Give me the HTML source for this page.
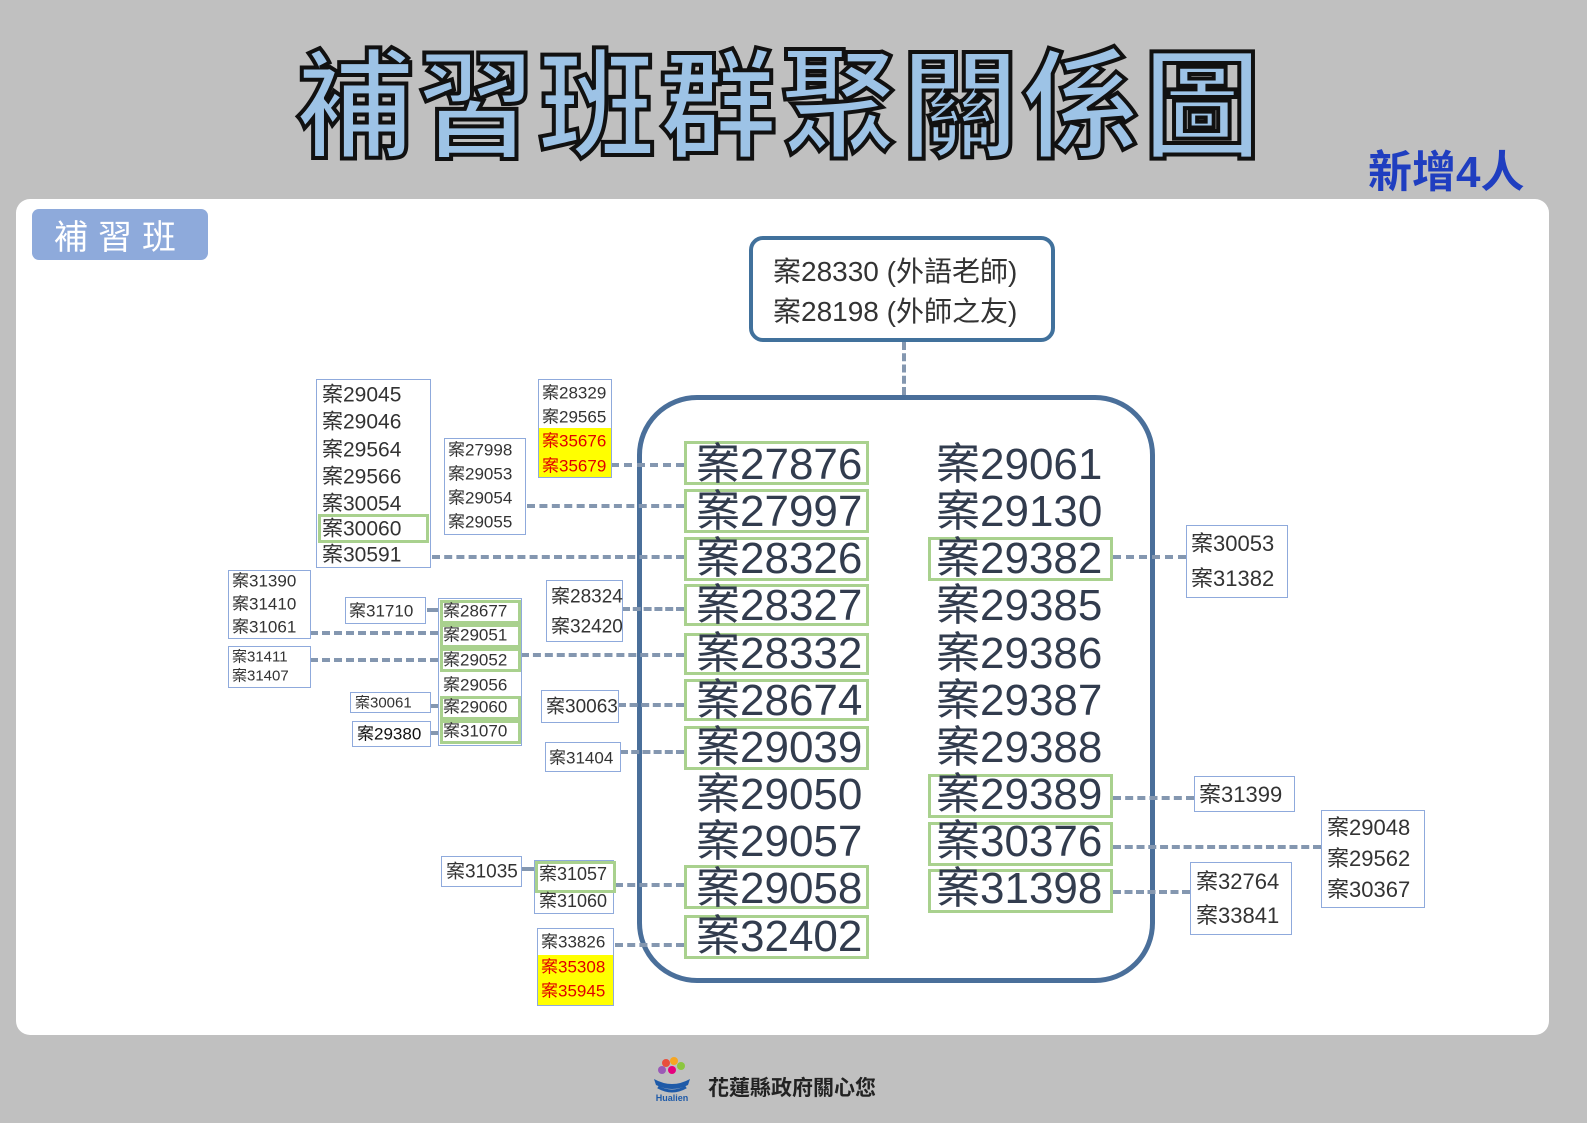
<!DOCTYPE html>
<html><head><meta charset="utf-8"><style>
*{margin:0;padding:0;box-sizing:border-box}
body{width:1587px;height:1123px;background:#c0c0c0;position:relative;overflow:hidden;font-family:"Liberation Sans","Noto Sans CJK TC",sans-serif;color:#333}
.a{position:absolute}
.box{position:absolute;background:#fff;border:1px solid #8faadc}
.r{position:absolute;left:0;right:0;white-space:nowrap;line-height:1;transform:translateY(-50%)}
.g{position:absolute;border:3px solid #a9d18e}
.big{position:absolute;font-size:44px;line-height:1;color:#323c4e;white-space:nowrap;transform:translateY(-50%)}
.d{position:absolute;height:0;border-top:4px dashed #8497b0}
.y{position:absolute;background:#ffff00}
.red{color:#e00000}
</style></head><body>
<div class="a" style="left:290px;top:32px;width:980px;text-align:center;font-size:118px;font-weight:bold;color:#9dc3e6;-webkit-text-stroke:4px #111;letter-spacing:3px;line-height:1.1;font-family:'Noto Sans CJK TC',sans-serif">補習班群聚關係圖</div>
<div class="a" style="left:1368px;top:136px;font-size:44px;font-weight:bold;color:#1f3ec0;font-family:'Liberation Sans','Noto Sans CJK TC',sans-serif">新增4人</div>
<div class="a" style="left:16px;top:199px;width:1533px;height:836px;background:#fff;border-radius:14px"></div>
<div class="a" style="left:32px;top:209px;width:176px;height:51px;background:#8eaadb;border-radius:7px;color:#fff;font-size:34px;letter-spacing:10px;text-align:center;line-height:51px;font-family:'Noto Sans CJK TC',sans-serif">補習班</div>
<div class="a" style="left:749px;top:236px;width:306px;height:106px;border:4px solid #41719c;border-radius:14px;background:#fff;font-size:28px;line-height:40px;padding:12px 0 0 20px;color:#333">案28330 (外語老師)<br>案28198 (外師之友)</div>
<div class="a" style="left:902px;top:342px;height:53px;border-left:4px dashed #8497b0"></div>
<div class="a" style="left:637px;top:395px;width:518px;height:588px;border:5px solid #4a6f9a;border-radius:60px"></div>

<!-- connectors -->
<div class="d" style="top:463px;left:611px;width:73px"></div>
<div class="d" style="top:504px;left:527px;width:157px"></div>
<div class="d" style="top:555px;left:432px;width:252px"></div>
<div class="d" style="top:608px;left:427px;width:11px"></div>
<div class="d" style="top:631px;left:310px;width:128px"></div>
<div class="d" style="top:607px;left:622px;width:62px"></div>
<div class="d" style="top:658px;left:310px;width:128px"></div>
<div class="d" style="top:653px;left:521px;width:163px"></div>
<div class="d" style="top:703px;left:618px;width:66px"></div>
<div class="d" style="top:704px;left:430px;width:8px"></div>
<div class="d" style="top:731px;left:430px;width:8px"></div>
<div class="d" style="top:750px;left:620px;width:64px"></div>
<div class="d" style="top:867px;left:521px;width:13px"></div>
<div class="d" style="top:883px;left:615px;width:69px"></div>
<div class="d" style="top:943px;left:615px;width:69px"></div>
<div class="d" style="top:555px;left:1113px;width:73px"></div>
<div class="d" style="top:796px;left:1113px;width:81px"></div>
<div class="d" style="top:845px;left:1113px;width:208px"></div>
<div class="d" style="top:890px;left:1113px;width:77px"></div>

<!-- central left column -->
<div class="g" style="left:684px;top:441px;width:185px;height:44px"></div>
<div class="g" style="left:684px;top:489px;width:185px;height:44px"></div>
<div class="g" style="left:684px;top:537px;width:185px;height:44px"></div>
<div class="g" style="left:684px;top:584px;width:185px;height:42px"></div>
<div class="g" style="left:684px;top:633px;width:185px;height:42px"></div>
<div class="g" style="left:684px;top:679px;width:185px;height:42px"></div>
<div class="g" style="left:684px;top:726px;width:185px;height:44px"></div>
<div class="g" style="left:684px;top:865px;width:185px;height:44px"></div>
<div class="g" style="left:684px;top:915px;width:185px;height:44px"></div>
<div class="big" style="left:696px;top:465px">案27876</div>
<div class="big" style="left:696px;top:512px">案27997</div>
<div class="big" style="left:696px;top:559px">案28326</div>
<div class="big" style="left:696px;top:606px">案28327</div>
<div class="big" style="left:696px;top:654px">案28332</div>
<div class="big" style="left:696px;top:701px">案28674</div>
<div class="big" style="left:696px;top:748px">案29039</div>
<div class="big" style="left:696px;top:795px">案29050</div>
<div class="big" style="left:696px;top:842px">案29057</div>
<div class="big" style="left:696px;top:889px">案29058</div>
<div class="big" style="left:696px;top:937px">案32402</div>
<!-- right column -->
<div class="g" style="left:928px;top:537px;width:185px;height:44px"></div>
<div class="g" style="left:928px;top:774px;width:185px;height:44px"></div>
<div class="g" style="left:928px;top:822px;width:185px;height:44px"></div>
<div class="g" style="left:928px;top:869px;width:185px;height:44px"></div>
<div class="big" style="left:936px;top:465px">案29061</div>
<div class="big" style="left:936px;top:512px">案29130</div>
<div class="big" style="left:936px;top:559px">案29382</div>
<div class="big" style="left:936px;top:606px">案29385</div>
<div class="big" style="left:936px;top:654px">案29386</div>
<div class="big" style="left:936px;top:701px">案29387</div>
<div class="big" style="left:936px;top:748px">案29388</div>
<div class="big" style="left:936px;top:795px">案29389</div>
<div class="big" style="left:936px;top:842px">案30376</div>
<div class="big" style="left:936px;top:889px">案31398</div>

<!-- A -->
<div class="box" style="left:316px;top:379px;width:115px;height:189px;font-size:21px;padding-left:5px">
<div class="g" style="left:1px;top:134px;width:111px;height:29px"></div>
<div class="r" style="left:5px;top:15px">案29045</div><div class="r" style="left:5px;top:42px">案29046</div><div class="r" style="left:5px;top:70px">案29564</div><div class="r" style="left:5px;top:97px">案29566</div><div class="r" style="left:5px;top:124px">案30054</div><div class="r" style="left:5px;top:149px">案30060</div><div class="r" style="left:5px;top:175px">案30591</div></div>
<!-- B -->
<div class="box" style="left:538px;top:379px;width:74px;height:99px;font-size:17px">
<div class="y" style="left:0;top:48px;width:72px;height:49px"></div>
<div class="r" style="left:3px;top:13px">案28329</div><div class="r" style="left:3px;top:37px">案29565</div><div class="r red" style="left:3px;top:61px">案35676</div><div class="r red" style="left:3px;top:86px">案35679</div></div>
<!-- C -->
<div class="box" style="left:444px;top:438px;width:82px;height:97px;font-size:17px">
<div class="r" style="left:3px;top:11px">案27998</div><div class="r" style="left:3px;top:35px">案29053</div><div class="r" style="left:3px;top:59px">案29054</div><div class="r" style="left:3px;top:83px">案29055</div></div>
<!-- D -->
<div class="box" style="left:228px;top:570px;width:83px;height:69px;font-size:17px">
<div class="r" style="left:3px;top:10px">案31390</div><div class="r" style="left:3px;top:33px">案31410</div><div class="r" style="left:3px;top:56px">案31061</div></div>
<!-- E -->
<div class="box" style="left:228px;top:646px;width:83px;height:42px;font-size:15px">
<div class="r" style="left:3px;top:10px">案31411</div><div class="r" style="left:3px;top:29px">案31407</div></div>
<div class="box" style="left:345px;top:597px;width:81px;height:27px;font-size:17px"><div class="r" style="left:3px;top:13px">案31710</div></div>
<!-- G -->
<div class="box" style="left:438px;top:598px;width:84px;height:148px;font-size:17px">
<div class="g" style="left:1px;top:1px;width:81px;height:24px"></div>
<div class="g" style="left:1px;top:25px;width:81px;height:24px"></div>
<div class="g" style="left:1px;top:49px;width:81px;height:24px"></div>
<div class="g" style="left:1px;top:97px;width:81px;height:24px"></div>
<div class="g" style="left:1px;top:121px;width:81px;height:24px"></div>
<div class="r" style="left:4px;top:12px">案28677</div><div class="r" style="left:4px;top:36px">案29051</div><div class="r" style="left:4px;top:61px">案29052</div><div class="r" style="left:4px;top:86px">案29056</div><div class="r" style="left:4px;top:108px">案29060</div><div class="r" style="left:4px;top:132px">案31070</div></div>
<div class="box" style="left:546px;top:580px;width:77px;height:62px;font-size:19px">
<div class="r" style="left:4px;top:16px">案28324</div><div class="r" style="left:4px;top:46px">案32420</div></div>
<div class="box" style="left:350px;top:692px;width:81px;height:21px;font-size:15px"><div class="r" style="left:4px;top:10px">案30061</div></div>
<div class="box" style="left:352px;top:721px;width:79px;height:26px;font-size:17px;color:#111"><div class="r" style="left:4px;top:12px">案29380</div></div>
<div class="box" style="left:541px;top:690px;width:78px;height:33px;font-size:19px"><div class="r" style="left:4px;top:16px">案30063</div></div>
<div class="box" style="left:545px;top:742px;width:76px;height:30px;font-size:17px"><div class="r" style="left:3px;top:15px">案31404</div></div>
<div class="box" style="left:441px;top:856px;width:81px;height:31px;font-size:19px"><div class="r" style="left:4px;top:15px">案31035</div></div>
<div class="box" style="left:534px;top:860px;width:80px;height:54px;font-size:18px">
<div class="g" style="left:0;top:0;width:81px;height:32px"></div>
<div class="r" style="left:4px;top:13px">案31057</div><div class="r" style="left:4px;top:40px">案31060</div></div>
<div class="box" style="left:537px;top:928px;width:77px;height:78px;font-size:17px">
<div class="y" style="left:0;top:26px;width:75px;height:50px"></div>
<div class="r" style="left:3px;top:13px">案33826</div><div class="r red" style="left:3px;top:38px">案35308</div><div class="r red" style="left:3px;top:62px">案35945</div></div>
<!-- right boxes -->
<div class="box" style="left:1186px;top:525px;width:102px;height:73px;font-size:22px">
<div class="r" style="left:4px;top:18px">案30053</div><div class="r" style="left:4px;top:53px">案31382</div></div>
<div class="box" style="left:1194px;top:776px;width:101px;height:36px;font-size:22px"><div class="r" style="left:4px;top:18px">案31399</div></div>
<div class="box" style="left:1321px;top:810px;width:104px;height:98px;font-size:22px">
<div class="r" style="left:5px;top:17px">案29048</div><div class="r" style="left:5px;top:48px">案29562</div><div class="r" style="left:5px;top:79px">案30367</div></div>
<div class="box" style="left:1190px;top:862px;width:102px;height:73px;font-size:22px">
<div class="r" style="left:5px;top:19px">案32764</div><div class="r" style="left:5px;top:53px">案33841</div></div>

<!-- footer -->
<svg class="a" style="left:650px;top:1055px" width="44" height="48" viewBox="0 0 44 48">
<circle cx="16" cy="8" r="4" fill="#e94e3c"/><circle cx="24" cy="6" r="4" fill="#f6a623"/><circle cx="31" cy="11" r="4" fill="#8cc63f"/><circle cx="12" cy="15" r="4" fill="#9b59b6"/><circle cx="22" cy="15" r="4" fill="#e5007e"/>
<path d="M4 24 Q22 34 40 24 L38 30 Q22 38 6 30Z" fill="#1e5aa8"/><path d="M8 32 Q22 40 36 32" stroke="#1e5aa8" stroke-width="3" fill="none"/>
<text x="22" y="46" font-size="9" font-weight="bold" fill="#1e5aa8" text-anchor="middle" font-family="Liberation Sans">Hualien</text></svg>
<div class="a" style="left:708px;top:1072px;font-size:21px;font-weight:bold;color:#222;font-family:'Noto Sans CJK TC',sans-serif">花蓮縣政府關心您</div>
</body></html>
